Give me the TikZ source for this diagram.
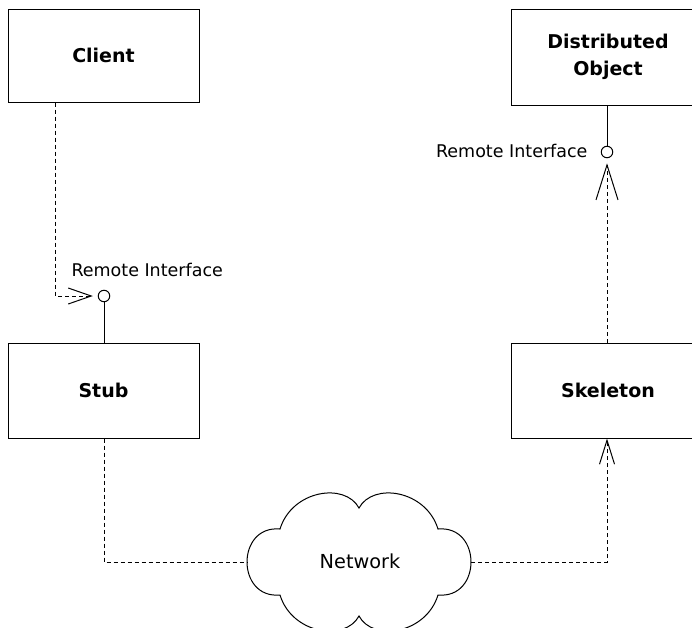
\documentclass[tikz,border=0pt]{standalone}
\usepackage{fontspec}
\setmainfont{DejaVu Sans}
\usetikzlibrary{arrows.meta}
\begin{document}
\begin{tikzpicture}[x=1pt,y=-1pt,line width=1pt,
  box/.style={draw,rectangle,inner sep=0pt,align=center,font=\fontsize{19}{27}\selectfont\bfseries},
  iface/.style={draw,circle,fill=white,inner sep=0pt,minimum size=11.5pt},
  lbl/.style={inner sep=0pt,font=\fontsize{17.5}{20}\selectfont},
  netlbl/.style={inner sep=0pt,font=\fontsize{19.3}{22}\selectfont},
  dep/.style={dashed,dash pattern=on 4pt off 3pt},
]
\clip (0,0) rectangle (692,627);
\node[box,minimum width=191pt,minimum height=93pt] (client) at (103.5,55.5) {Client};
\node[box,minimum width=191pt,minimum height=95pt] (stub) at (103.5,390.5) {Stub};
\node[box,minimum width=194pt,minimum height=96pt] (dobj) at (608,57) {Distributed\\Object};
\node[box,minimum width=194pt,minimum height=95pt] (skel) at (608,390.5) {Skeleton};
\node[iface] (ifL) at (104,296) {};
\node[iface] (ifR) at (607,152) {};
\node[lbl,anchor=base west] (lblL) at (71,276) {Remote Interface};
\node[lbl,anchor=base east] (lblR) at (588,157) {Remote Interface};
% cloud
\node[netlbl,anchor=base] (net) at (360,568) {Network};
\coordinate (cloudL) at (247,562);
\coordinate (cloudR) at (471,562);
\draw (280,529) .. controls (292,490) and (345,482) .. (359,508)
  .. controls (373,482) and (426,490) .. (438,529)
  .. controls (482,525) and (482,599) .. (438,595)
  .. controls (426,634) and (373,642) .. (359,616)
  .. controls (345,642) and (292,634) .. (280,595)
  .. controls (236,599) and (236,525) .. cycle;
% connectors
\coordinate (cdep) at ([xshift=48pt]client.south west);
\draw[dep,-{Straight Barb[length=23pt,width=16pt]},shorten >=5pt] (cdep) |- (ifL.west);
\draw (ifL.south) -- (ifL.south |- stub.north);
\draw (ifR.north |- dobj.south) -- (ifR.north);
\draw[dep,-{Straight Barb[length=35pt,width=22pt]},shorten >=5pt] (ifR.south |- skel.north) -- (ifR.south);
\draw[dep] (ifL.south |- stub.south) |- (cloudL);
\draw[dep,-{Straight Barb[length=24pt,width=15pt]}] (cloudR) -| (ifR.south |- skel.south);
\end{tikzpicture}
\end{document}
